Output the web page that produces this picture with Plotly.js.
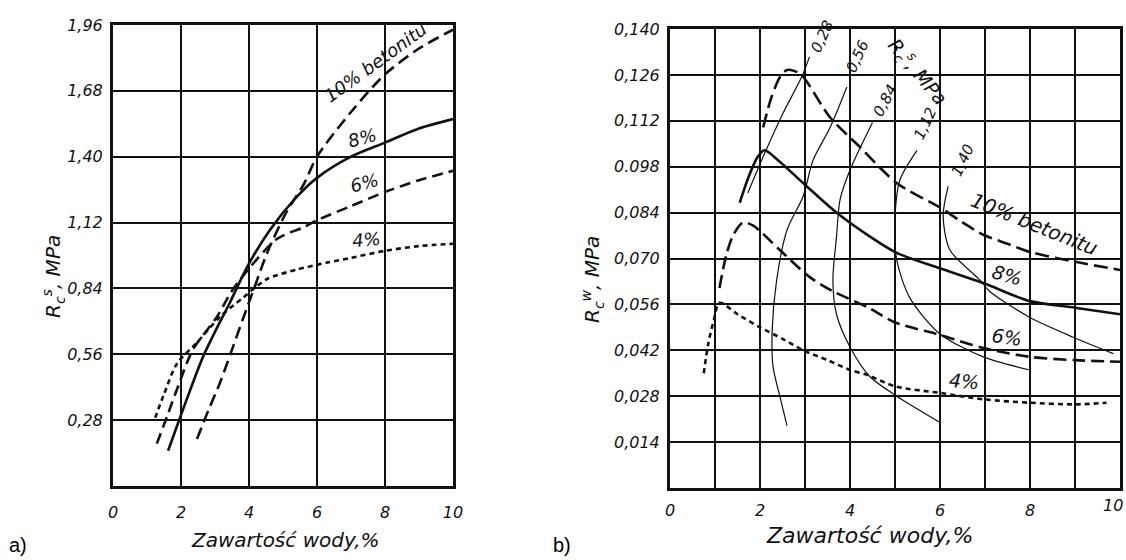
<!DOCTYPE html>
<html>
<head>
<meta charset="utf-8">
<script src="https://cdn.plot.ly/plotly-3.0.1.min.js"></script>
<style>
html,body{margin:0;padding:0;background:#fff;}
#chart{width:1126px;height:560px;}
</style>
</head>
<body>
<div id="chart"></div>
<script>
// ---------- Data: chart a) compressive strength Rc^s vs water content ----------
const a_x_10 = [2.47, 2.8, 3.15, 3.5, 3.82, 4.2, 4.53, 5.12, 5.6, 6.0, 7.0, 8.0, 9.0, 10.0];
const a_y_10 = [0.20, 0.32, 0.44, 0.58, 0.71, 0.86, 0.99, 1.17, 1.28, 1.40, 1.59, 1.75, 1.86, 1.94];
const a_x_8 = [1.62, 1.97, 2.3, 2.65, 3.05, 3.44, 3.94, 4.62, 5.41, 6.0, 7.0, 8.0, 9.0, 10.0];
const a_y_8 = [0.15, 0.29, 0.42, 0.55, 0.67, 0.78, 0.93, 1.09, 1.23, 1.31, 1.40, 1.46, 1.52, 1.56];
const a_x_6 = [1.29, 1.6, 1.88, 2.35, 3.06, 3.5, 4.03, 4.82, 5.6, 6.0, 7.0, 8.0, 9.0, 10.0];
const a_y_6 = [0.18, 0.30, 0.41, 0.58, 0.72, 0.83, 0.93, 1.05, 1.10, 1.13, 1.19, 1.25, 1.30, 1.34];
const a_x_4 = [1.24, 1.5, 1.88, 2.47, 3.15, 3.82, 4.53, 5.41, 6.3, 7.0, 8.0, 9.0, 10.0];
const a_y_4 = [0.29, 0.39, 0.52, 0.61, 0.72, 0.80, 0.88, 0.92, 0.95, 0.97, 1.00, 1.02, 1.03];

// ---------- Data: chart b) Rc^w vs water content ----------
const b_x_10 = [2.07, 2.25, 2.45, 2.6, 2.8, 2.96, 3.56, 4.22, 5.04, 6.07, 6.5, 7.0, 7.5, 8.0, 9.0, 10.0];
const b_y_10 = [0.110, 0.119, 0.1255, 0.1275, 0.127, 0.1254, 0.113, 0.104, 0.093, 0.085, 0.081, 0.077, 0.0745, 0.072, 0.069, 0.0665];
const b_x_8 = [1.55, 1.75, 1.95, 2.1, 2.4, 3.0, 3.7, 4.3, 5.04, 6.0, 6.96, 8.0, 9.0, 10.0];
const b_y_8 = [0.087, 0.095, 0.101, 0.103, 0.100, 0.0925, 0.084, 0.078, 0.0717, 0.067, 0.0625, 0.057, 0.055, 0.053];
const b_x_6 = [1.1, 1.25, 1.4, 1.62, 1.85, 2.44, 3.1, 3.62, 4.38, 5.0, 6.0, 6.96, 8.0, 9.0, 10.0];
const b_y_6 = [0.061, 0.071, 0.077, 0.081, 0.080, 0.0726, 0.0644, 0.060, 0.0552, 0.0505, 0.0467, 0.0427, 0.040, 0.039, 0.0385];
const b_x_4 = [0.75, 0.85, 0.97, 1.1, 1.5, 2.0, 2.5, 2.96, 3.5, 4.0, 4.38, 5.0, 6.0, 7.0, 8.0, 9.0, 9.7];
const b_y_4 = [0.035, 0.044, 0.051, 0.0565, 0.053, 0.049, 0.0455, 0.042, 0.039, 0.036, 0.0345, 0.031, 0.029, 0.027, 0.026, 0.0255, 0.026];

// iso-lines of Rc^s (MPa) in chart b)
const iso_028_x = [1.73, 2.07, 2.5, 2.93, 3.1];
const iso_028_y = [0.090, 0.101, 0.114, 0.1255, 0.1315];
const iso_056_x = [2.6, 2.44, 2.29, 2.27, 2.37, 2.6, 2.96, 3.18, 3.56, 3.93];
const iso_056_y = [0.019, 0.028, 0.037, 0.048, 0.0634, 0.0787, 0.089, 0.100, 0.110, 0.1223];
const iso_084_x = [6.0, 5.04, 4.44, 4.0, 3.7, 3.62, 3.7, 3.78, 4.0, 4.5];
const iso_084_y = [0.020, 0.028, 0.034, 0.043, 0.053, 0.0634, 0.0766, 0.088, 0.097, 0.1115];
const iso_112_x = [8.0, 6.96, 6.0, 5.33, 5.04, 5.0, 5.11, 5.49];
const iso_112_y = [0.036, 0.040, 0.047, 0.058, 0.0695, 0.082, 0.094, 0.103];
const iso_140_x = [9.85, 8.96, 8.0, 7.1, 6.89, 6.22, 6.07, 6.18];
const iso_140_y = [0.041, 0.046, 0.052, 0.060, 0.0634, 0.0726, 0.083, 0.092];

// tick labels
const a_xticks = [0, 2, 4, 6, 8, 10];
const a_yticks = [0.28, 0.56, 0.84, 1.12, 1.40, 1.68, 1.96];
const a_yticktext = ["0,28", "0,56", "0,84", "1,12", "1,40", "1,68", "1,96"];
const b_xticks = [0, 2, 4, 6, 8];
const b_xlast = "10";   // last x label of b), drawn flush with the page edge
const b_yticks = [0.014, 0.028, 0.042, 0.056, 0.070, 0.084, 0.098, 0.112, 0.126, 0.140];
const b_yticktext = ["0,014", "0,028", "0,042", "0,056", "0,070", "0,084", "0.098", "0,112", "0,126", "0,140"];

// labels
const seriesLabels = ["10% betonitu", "8%", "6%", "4%"];
const isoLabels = ["0,28", "0,56", "0,84", "1,12", "1,40"];

// ---------- Styling ----------
const FONT = "DejaVu Sans, Liberation Sans, Arial, sans-serif";
const INK = "#111";

function curve(x, y, dash, xa, ya, name) {
  return {
    x: x, y: y, xaxis: xa, yaxis: ya, name: name, mode: "lines", type: "scatter",
    line: {color: INK, width: 2.6, dash: dash, shape: "spline", smoothing: 0.8},
    hoverinfo: "x+y+name", showlegend: false
  };
}
function thin(x, y, name) {
  return {
    x: x, y: y, xaxis: "x2", yaxis: "y2", name: name, mode: "lines", type: "scatter",
    line: {color: INK, width: 1.2, shape: "spline", smoothing: 0.8},
    hoverinfo: "x+y+name", showlegend: false
  };
}

const traces = [
  curve(a_x_10, a_y_10, "12px,6px", "x", "y", seriesLabels[0]),
  curve(a_x_8, a_y_8, "solid", "x", "y", seriesLabels[1]),
  curve(a_x_6, a_y_6, "11px,6px", "x", "y", seriesLabels[2]),
  curve(a_x_4, a_y_4, "5px,4px", "x", "y", seriesLabels[3]),
  thin(iso_028_x, iso_028_y, isoLabels[0]),
  thin(iso_056_x, iso_056_y, isoLabels[1]),
  thin(iso_084_x, iso_084_y, isoLabels[2]),
  thin(iso_112_x, iso_112_y, isoLabels[3]),
  thin(iso_140_x, iso_140_y, isoLabels[4]),
  curve(b_x_10, b_y_10, "14px,6px", "x2", "y2", seriesLabels[0]),
  curve(b_x_8, b_y_8, "solid", "x2", "y2", seriesLabels[1]),
  curve(b_x_6, b_y_6, "13px,6px", "x2", "y2", seriesLabels[2]),
  curve(b_x_4, b_y_4, "5px,4px", "x2", "y2", seriesLabels[3])
];

const W = 1126, H = 560;
const axBase = {
  showline: true, linecolor: INK, linewidth: 3, mirror: true,
  showgrid: true, gridcolor: INK, gridwidth: 2,
  zeroline: false, ticks: "", fixedrange: true, ticklabeloverflow: "allow",
  tickfont: {family: FONT, size: 16, color: INK, style: "italic"}
};

function ann(x, y, xref, yref, text, angle, size) {
  return {
    x: x, y: y, xref: xref, yref: yref, text: text, textangle: angle,
    xanchor: "center", yanchor: "middle",
    showarrow: false, font: {family: FONT, size: size, color: INK, style: "italic"}
  };
}

const annotations = [
  // chart a) labels
  ann(7.72, 1.80, "x", "y", seriesLabels[0], -36, 18),
  ann(7.35, 1.48, "x", "y", seriesLabels[1], -15, 18),
  ann(7.41, 1.29, "x", "y", seriesLabels[2], -15, 18),
  ann(7.47, 1.05, "x", "y", seriesLabels[3], -5, 18),
  // chart b) labels
  ann(8.09, 0.0805, "x2", "y2", seriesLabels[0], 22, 20),
  ann(7.49, 0.0650, "x2", "y2", seriesLabels[1], 15, 19),
  ann(7.49, 0.0462, "x2", "y2", seriesLabels[2], 8, 19),
  ann(6.53, 0.0325, "x2", "y2", seriesLabels[3], 5, 19),
  ann(3.38, 0.1375, "x2", "y2", isoLabels[0], -65, 15),
  ann(4.16, 0.1315, "x2", "y2", isoLabels[1], -65, 15),
  ann(4.78, 0.1180, "x2", "y2", isoLabels[2], -62, 15),
  ann(5.67, 0.1110, "x2", "y2", isoLabels[3], -65, 15),
  ann(6.51, 0.1000, "x2", "y2", isoLabels[4], -65, 15),
  ann(5.49, 0.1270, "x2", "y2", "R<sub>c</sub><sup>s</sup>, MPa", 50, 19),
  // last x tick label of b), kept inside the page
  {x: 1, y: 0, xref: "x2 domain", yref: "y2 domain", text: b_xlast, showarrow: false,
   xanchor: "right", yanchor: "top", yshift: -6, xshift: 5,
   font: {family: FONT, size: 16, color: INK, style: "italic"}},
  // axis titles
  ann(285/W, 1 - 540/H, "paper", "paper", "Zawartość wody,%", 0, 20),
  ann(869/W, 1 - 535/H, "paper", "paper", "Zawartość wody,%", 0, 22),
  ann(53/W, 1 - 277/H, "paper", "paper", "R<sub>c</sub><sup>s</sup>, MPa", -90, 20),
  ann(592/W, 1 - 280/H, "paper", "paper", "R<sub>c</sub><sup>w</sup>, MPa", -90, 20),
  // panel letters
  {x: 18/W, y: 1 - 545/H, xref: "paper", yref: "paper", text: "a)", showarrow: false,
   xanchor: "center", yanchor: "middle",
   font: {family: "Liberation Sans, Arial, sans-serif", size: 20, color: "#000"}},
  {x: 562/W, y: 1 - 545/H, xref: "paper", yref: "paper", text: "b)", showarrow: false,
   xanchor: "center", yanchor: "middle",
   font: {family: "Liberation Sans, Arial, sans-serif", size: 20, color: "#000"}}
];

const layout = {
  width: W, height: H,
  margin: {l: 0, r: 0, t: 0, b: 0},
  paper_bgcolor: "#fff", plot_bgcolor: "#fff",
  showlegend: false,
  xaxis: Object.assign({}, axBase, {
    domain: [113/W, 453/W], range: [0, 10],
    tickvals: a_xticks, ticklabelstandoff: 10, anchor: "y"
  }),
  yaxis: Object.assign({}, axBase, {
    domain: [1 - 486/H, 1 - 25/H], range: [0, 1.96],
    tickvals: a_yticks, ticktext: a_yticktext, ticklabelstandoff: 4, anchor: "x"
  }),
  xaxis2: Object.assign({}, axBase, {
    domain: [670/W, 1120/W], range: [0, 10],
    tickvals: b_xticks, ticklabelstandoff: 6, anchor: "y2",
    minor: {dtick: 1, showgrid: true, gridcolor: INK, gridwidth: 2, ticks: ""}
  }),
  yaxis2: Object.assign({}, axBase, {
    domain: [1 - 488/H, 1 - 29/H], range: [0, 0.140],
    tickvals: b_yticks, ticktext: b_yticktext, ticklabelstandoff: 4, anchor: "x2"
  }),
  annotations: annotations
};

Plotly.newPlot("chart", traces, layout, {displayModeBar: false, staticPlot: true});
</script>
</body>
</html>
